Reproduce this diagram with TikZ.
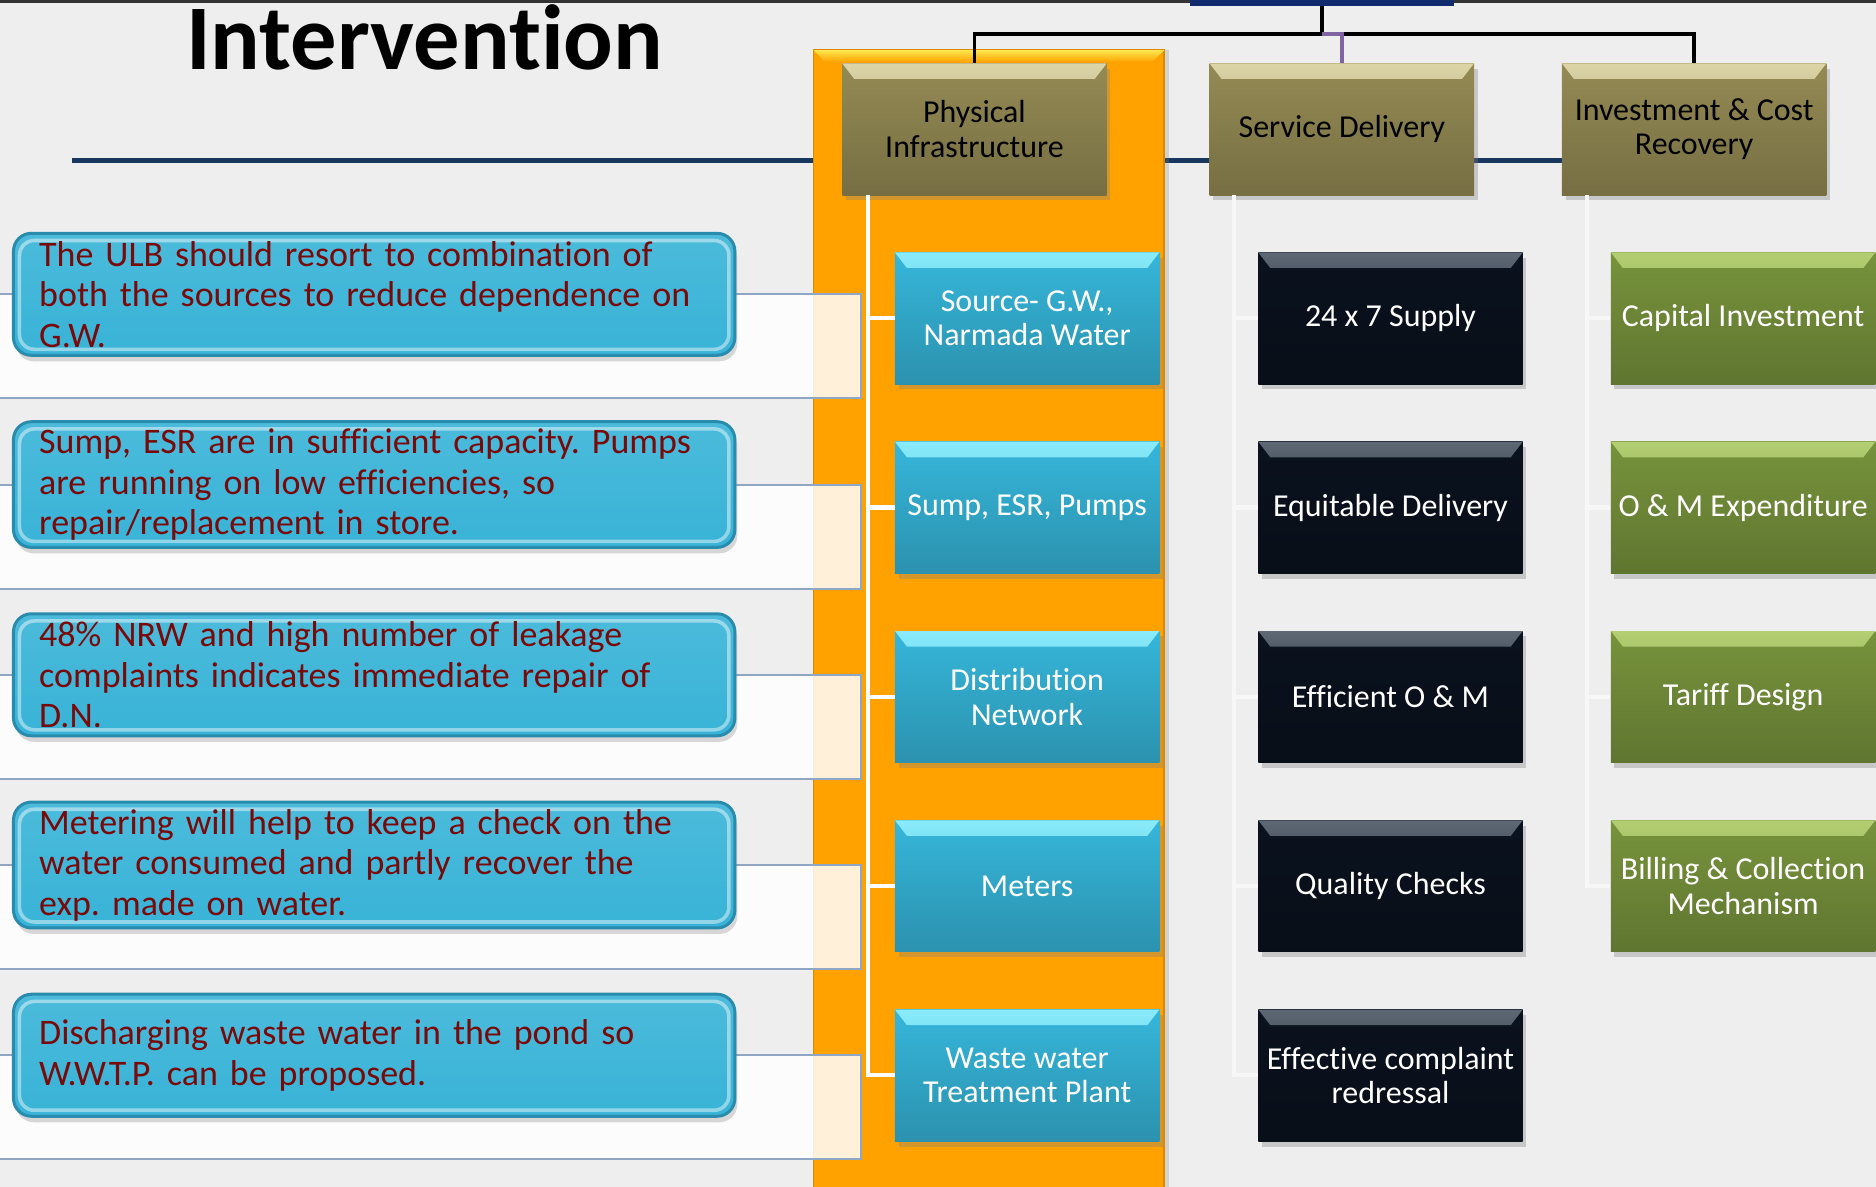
\documentclass[tikz,border=0pt]{standalone}
\usepackage{fontspec}
\setmainfont{Carlito}[Ligatures=NoCommon]
\usepackage{tikz}
\usetikzlibrary{positioning,shadows}
\frenchspacing

\definecolor{pagebg}{HTML}{EEEEEE}
\definecolor{rulenavy}{HTML}{17375E}
\definecolor{rootblue}{HTML}{0F2B6E}
\definecolor{colorange}{HTML}{FFA200}
\definecolor{headolive}{HTML}{948A54}
\definecolor{headtop}{HTML}{DCD5A8}
\definecolor{infrateal}{HTML}{36B6DA}
\definecolor{infratop}{HTML}{8AEBFA}
\definecolor{servnight}{HTML}{0A121E}
\definecolor{servtop}{HTML}{5E6874}
\definecolor{invleaf}{HTML}{77933C}
\definecolor{invtop}{HTML}{B3CF72}
\definecolor{notefill}{HTML}{38B3D7}
\definecolor{noteedge}{HTML}{2A8CAD}
\definecolor{notetext}{HTML}{780A0A}
\definecolor{bandedge}{HTML}{8FA6C4}
\definecolor{linkpurple}{HTML}{8064A2}

\newcommand\tilefont{\fontsize{15.2}{16.5}\selectfont}
\newcommand\calloutfont{\fontsize{17.1}{19.3}\selectfont}
\newcommand\titlefont{\fontsize{44}{50}\selectfont\bfseries}

\tikzset{
  tile/.style 2 args={minimum width=44.2mm, minimum height=22mm, align=center,
    font=\tilefont, text=white, inner xsep=0.5mm,
    top color=#1, bottom color=#1!80!black,
    drop shadow={shadow xshift=0.6mm, shadow yshift=-0.9mm, opacity=0.35},
    path picture={
      \shade[top color=#2, bottom color=#1]
        (path picture bounding box.north west) -- (path picture bounding box.north east)
        -- ([xshift=-2mm,yshift=-2.6mm]path picture bounding box.north east)
        -- ([xshift=2mm,yshift=-2.6mm]path picture bounding box.north west) -- cycle;
    }},
  headbox/.style={tile={headolive}{headtop}, text=black},
  infrabox/.style={tile={infrateal}{infratop}},
  servbox/.style={tile={servnight}{servtop}},
  invbox/.style={tile={invleaf}{invtop}},
  rootbox/.style={fill=rootblue, minimum width=44mm, minimum height=8mm},
  callout/.style={anchor=west, rounded corners=3mm, draw=noteedge, line width=0.5mm,
    top color=notefill!90!white, bottom color=notefill,
    text=notetext, font=\calloutfont, align=left,
    text width=112mm, inner xsep=4.3mm, minimum height=20.4mm,
    drop shadow={shadow xshift=0.4mm, shadow yshift=-1mm, opacity=0.3},
    path picture={
      \draw[white, opacity=0.45, line width=0.6mm, rounded corners=2.5mm]
        ([shift={(1mm,-1.2mm)}]path picture bounding box.north west)
        rectangle ([shift={(-1mm,1mm)}]path picture bounding box.south east);
    }},
  band/.style={draw=bandedge, line width=0.35mm, fill=white, fill opacity=0.85},
  link/.style={draw=black, line width=0.6mm},
  purplelink/.style={draw=linkpurple, line width=0.6mm},
  spine/.style={draw=white, line width=0.7mm},
}

\begin{document}
\begin{tikzpicture}[x=0.2mm, y=-0.2mm]
  \useasboundingbox (0,0) rectangle (1568,992);
  \fill[pagebg] (0,0) rectangle (1568,992);
  \fill[black!80] (0,0) rectangle (1568,2.5);

  % title
  \node[font=\titlefont, anchor=base] (title) at (355,58) {Intervention};
  \draw[rulenavy, line width=0.8mm] (60,134) -- (1310,134);

  % highlighted column
  \path[fill=colorange, draw=colorange!85!black, line width=0.3mm,
        drop shadow={shadow xshift=0.8mm, shadow yshift=0mm, opacity=0.25}]
    (680,42) rectangle (973,1010);
  \shade[top color=colorange!40!yellow!70!white, bottom color=colorange]
    (680,42) -- (973,42) -- (963,52) -- (690,52) -- cycle;

  % bands behind the notes
  \foreach \y in {246,405,564,723,882}
    \draw[band] (-5,\y) rectangle (720,\y+87);

  % headers
  \node[rootbox] (root) at (1105,-15) {};
  \node[headbox] (phys) at (814.5,108) {Physical\\Infrastructure};
  \node[headbox] (serv) at (1121.5,108) {Service Delivery};
  \node[headbox] (inv) at (1416,108) {Investment \& Cost\\Recovery};

  \coordinate (hub) at ([yshift=-4.6mm]root.south);
  \draw[link] (root.south) -- (hub) -| (phys.north);
  \draw[link] (hub) -| (inv.north);
  \draw[purplelink] (hub) -| (serv.north);

  % physical infrastructure
  \node[infrabox] (src) at (858.5,266) {Source- G.W.,\\Narmada Water};
  \node[infrabox, below=9.5mm of src] (sump) {Sump, ESR, Pumps};
  \node[infrabox, below=9.5mm of sump] (dist) {Distribution\\Network};
  \node[infrabox, below=9.5mm of dist] (meter) {Meters};
  \node[infrabox, below=9.5mm of meter] (wwtp) {Waste water\\Treatment Plant};

  % service delivery
  \node[servbox, right=16.4mm of src] (supply) {24 x 7 Supply};
  \node[servbox, below=9.5mm of supply] (equit) {Equitable Delivery};
  \node[servbox, below=9.5mm of equit] (effom) {Efficient O \& M};
  \node[servbox, below=9.5mm of effom] (quality) {Quality Checks};
  \node[servbox, below=9.5mm of quality] (complaint) {Effective complaint\\redressal};

  % investment & cost recovery
  \node[invbox, right=14.6mm of supply] (capinv) {Capital Investment};
  \node[invbox, below=9.5mm of capinv] (omexp) {O \& M Expenditure};
  \node[invbox, below=9.5mm of omexp] (tariff) {Tariff Design};
  \node[invbox, below=9.5mm of tariff] (billing) {Billing \& Collection\\Mechanism};

  % branch lines
  \coordinate (pspine) at ([xshift=4.4mm]phys.south west);
  \coordinate (sspine) at ([xshift=4.2mm]serv.south west);
  \coordinate (ispine) at ([xshift=4.2mm]inv.south west);
  \foreach \n in {src,sump,dist,meter,wwtp}
    \draw[spine] (pspine) |- (\n.west);
  \foreach \n in {supply,equit,effom,quality,complaint}
    \draw[spine, draw=white!97!black] (sspine) |- (\n.west);
  \foreach \n in {capinv,omexp,tariff,billing}
    \draw[spine, draw=white!97!black] (ispine) |- (\n.west);

  % notes
  \node[callout] (note1) at (10,246) {The ULB should resort to combination of\\both the sources to reduce dependence on\\G.W.};
  \node[callout] (note2) at (10,405) {Sump, ESR are in sufficient capacity. Pumps\\are running on low efficiencies, so\\repair/replacement in store.};
  \node[callout] (note3) at (10,564) {48\% NRW and high number of leakage\\complaints indicates immediate repair of\\D.N.};
  \node[callout] (note4) at (10,723) {Metering will help to keep a check on the\\water consumed and partly recover the\\exp. made on water.};
  \node[callout] (note5) at (10,882) {Discharging waste water in the pond so\\W.W.T.P. can be proposed.};
\end{tikzpicture}
\end{document}
